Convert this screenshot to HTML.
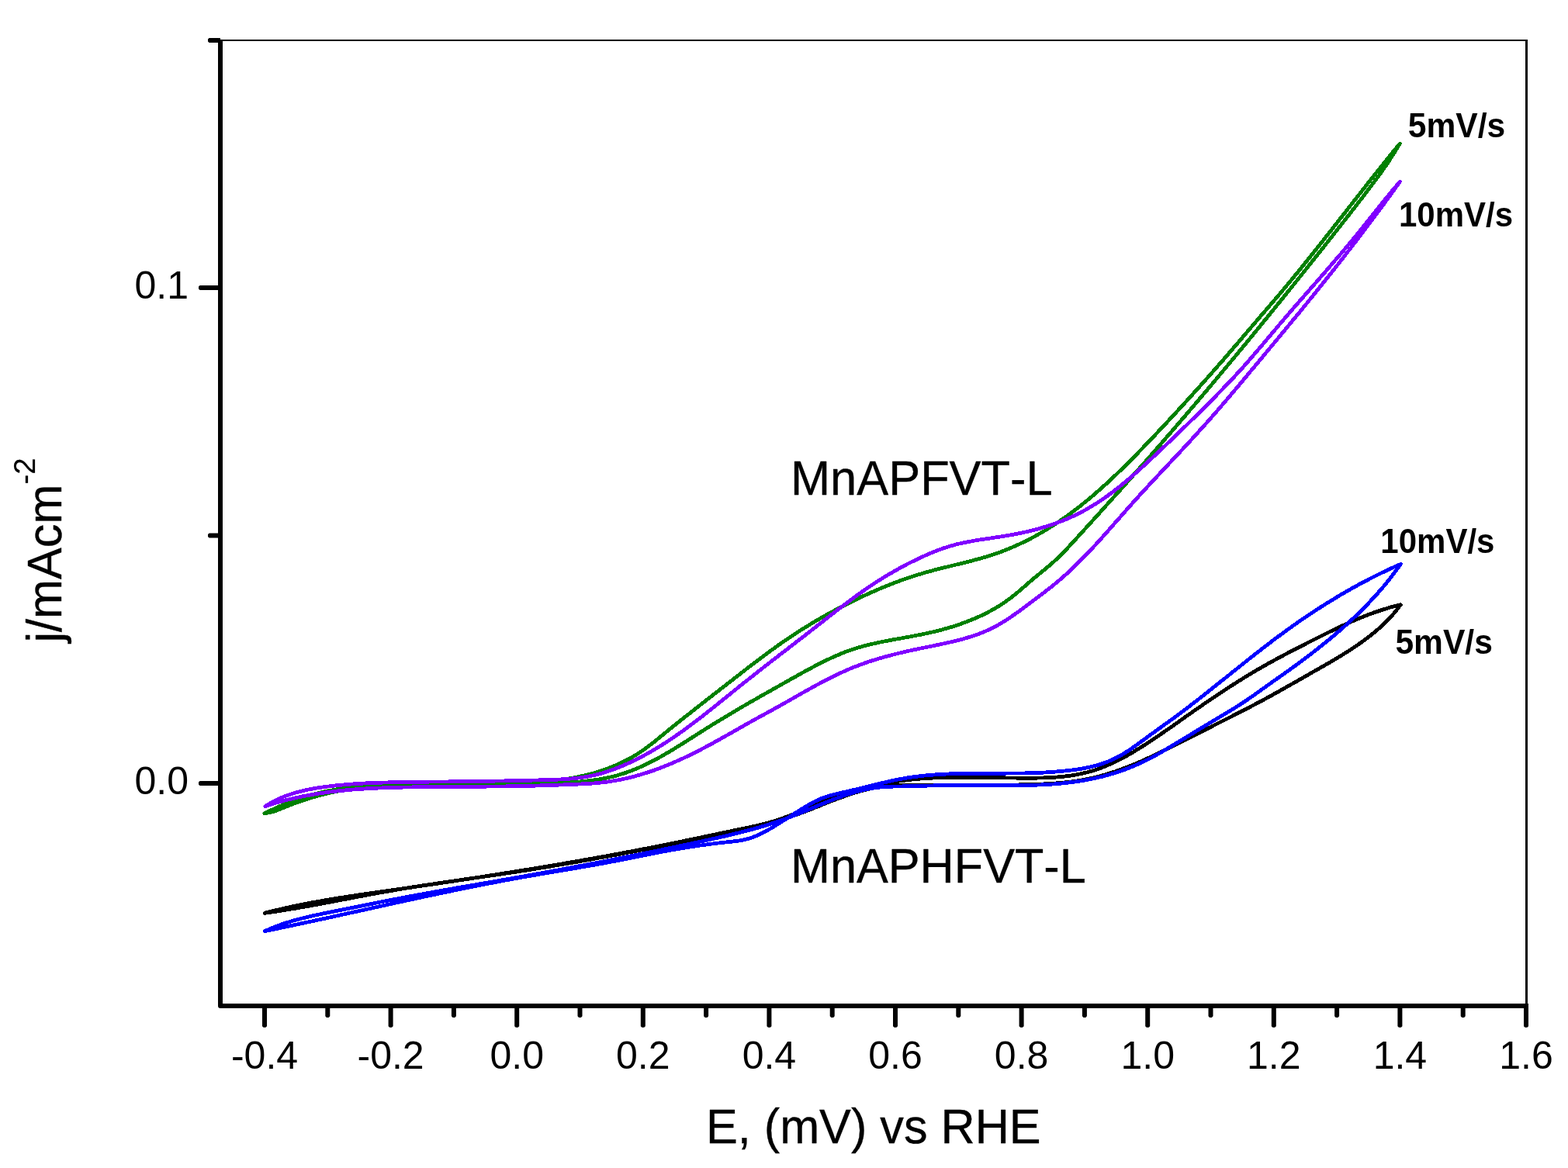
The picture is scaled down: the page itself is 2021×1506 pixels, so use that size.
<!DOCTYPE html>
<html lang="en"><head><meta charset="utf-8"><title>Cyclic voltammograms</title>
<style>
html,body{margin:0;padding:0;background:#fff;}
body{width:2021px;height:1506px;overflow:hidden;}
svg{display:block;}
text{font-family:"Liberation Sans",sans-serif;fill:#000;font-kerning:none;}
.tk{font-size:50px;}
.lab{font-size:61.2px;stroke:#000;stroke-width:0.35px;stroke-linejoin:round;}
.b{font-size:44px;font-weight:bold;}
.sup{font-size:38.3px;stroke-width:0.2px;}
.curve{fill:none;stroke-width:4.8;stroke-linejoin:round;stroke-linecap:round;}
</style></head><body>
<svg width="2021" height="1506" viewBox="0 0 2021 1506">
<rect width="2021" height="1506" fill="#fff"/>
<g class="curve" shape-rendering="crispEdges" transform="translate(0 0.4)">
<path stroke="#000" d="M341.2 1176.9C343.1 1176.4 349.0 1174.9 352.9 1173.9C356.8 1173.0 360.7 1172.1 364.6 1171.2C368.5 1170.3 372.4 1169.4 376.3 1168.6C380.3 1167.7 384.2 1166.9 388.1 1166.1C392.0 1165.3 396.0 1164.6 399.9 1163.8C403.9 1163.1 407.8 1162.4 411.8 1161.7C415.7 1161.0 419.7 1160.3 423.6 1159.6C427.6 1159.0 431.5 1158.3 435.5 1157.7C439.5 1157.0 443.4 1156.4 447.4 1155.8C451.4 1155.2 455.3 1154.6 459.3 1154.0C463.3 1153.4 467.2 1152.8 471.2 1152.2C475.2 1151.7 479.2 1151.1 483.1 1150.5C487.1 1149.9 491.1 1149.4 495.1 1148.8C499.0 1148.2 503.0 1147.7 507.0 1147.1C510.9 1146.5 514.9 1146.0 518.9 1145.4C522.9 1144.8 526.8 1144.2 530.8 1143.6C534.8 1143.1 538.8 1142.5 542.7 1141.9C546.7 1141.3 550.7 1140.7 554.6 1140.2C558.6 1139.6 562.6 1139.0 566.5 1138.4C570.5 1137.8 574.5 1137.2 578.5 1136.6C582.4 1136.0 586.4 1135.4 590.4 1134.8C594.3 1134.2 598.3 1133.6 602.3 1133.0C606.2 1132.4 610.2 1131.8 614.2 1131.2C618.1 1130.6 622.1 1130.0 626.0 1129.4C630.0 1128.8 634.0 1128.1 637.9 1127.5C641.9 1126.9 645.9 1126.3 649.8 1125.6C653.8 1125.0 657.8 1124.4 661.7 1123.7C665.7 1123.1 669.6 1122.5 673.6 1121.8C677.6 1121.2 681.5 1120.6 685.5 1119.9C689.4 1119.3 693.4 1118.6 697.4 1117.9C701.3 1117.3 705.3 1116.6 709.2 1116.0C713.2 1115.3 717.2 1114.6 721.1 1114.0C725.1 1113.3 729.0 1112.6 733.0 1111.9C736.9 1111.3 740.9 1110.6 744.8 1109.9C748.8 1109.2 752.7 1108.5 756.7 1107.8C760.6 1107.1 764.6 1106.4 768.5 1105.7C772.5 1105.0 776.4 1104.3 780.4 1103.6C784.3 1102.8 788.3 1102.1 792.2 1101.4C796.2 1100.7 800.1 1099.9 804.1 1099.2C808.0 1098.4 812.0 1097.7 815.9 1097.0C819.8 1096.2 823.8 1095.5 827.7 1094.7C831.7 1093.9 835.6 1093.2 839.5 1092.4C843.5 1091.6 847.4 1090.8 851.3 1090.1C855.3 1089.3 859.2 1088.5 863.1 1087.7C867.1 1086.9 871.0 1086.1 874.9 1085.3C878.9 1084.5 882.8 1083.7 886.7 1082.9C890.7 1082.0 894.6 1081.2 898.5 1080.4C902.4 1079.6 906.4 1078.8 910.3 1077.9C914.2 1077.1 918.1 1076.3 922.1 1075.5C926.0 1074.6 929.9 1073.8 933.9 1073.0C937.8 1072.2 941.7 1071.3 945.7 1070.5C949.6 1069.7 953.5 1068.9 957.5 1068.0C961.4 1067.2 965.3 1066.4 969.3 1065.6C973.2 1064.7 977.1 1063.9 981.0 1062.9C984.9 1062.0 988.8 1060.9 992.6 1059.8C996.5 1058.7 1000.3 1057.5 1004.1 1056.2C1007.9 1054.9 1011.6 1053.6 1015.4 1052.2C1019.1 1050.8 1022.8 1049.3 1026.5 1047.8C1030.3 1046.3 1033.9 1044.7 1037.6 1043.1C1041.3 1041.5 1044.9 1039.8 1048.6 1038.2C1052.3 1036.6 1056.0 1035.0 1059.7 1033.5C1063.4 1032.0 1067.1 1030.5 1070.9 1029.0C1074.6 1027.6 1078.4 1026.3 1082.2 1025.0C1086.0 1023.7 1089.8 1022.4 1093.7 1021.2C1097.5 1020.1 1101.4 1018.9 1105.2 1017.9C1109.1 1016.8 1113.0 1015.8 1116.9 1014.8C1120.8 1013.9 1124.8 1013.0 1128.7 1012.1C1132.6 1011.3 1136.6 1010.5 1140.5 1009.8C1144.5 1009.0 1148.4 1008.3 1152.4 1007.7C1156.4 1007.1 1160.3 1006.5 1164.3 1006.0C1168.3 1005.5 1172.3 1005.0 1176.3 1004.6C1180.2 1004.2 1184.2 1003.9 1188.2 1003.5C1192.2 1003.2 1196.2 1003.0 1200.2 1002.8C1204.1 1002.5 1208.1 1002.4 1212.1 1002.2C1216.1 1002.1 1220.1 1002.0 1224.1 1001.9C1228.1 1001.8 1232.1 1001.8 1236.1 1001.8C1240.1 1001.7 1244.1 1001.8 1248.1 1001.8C1252.1 1001.8 1256.1 1001.8 1260.1 1001.9C1264.1 1001.9 1268.1 1002.0 1272.1 1002.1C1276.1 1002.1 1280.1 1002.2 1284.2 1002.3C1288.2 1002.4 1292.2 1002.4 1296.2 1002.5C1300.3 1002.6 1304.3 1002.6 1308.3 1002.7C1312.4 1002.7 1316.4 1002.8 1320.5 1002.8C1324.5 1002.8 1328.6 1002.8 1332.7 1002.8C1336.7 1002.7 1340.8 1002.7 1344.8 1002.5C1348.9 1002.4 1352.9 1002.2 1357.0 1002.0C1361.0 1001.7 1365.0 1001.4 1369.0 1001.0C1373.0 1000.6 1377.0 1000.1 1380.9 999.5C1384.9 998.9 1388.8 998.2 1392.7 997.4C1396.6 996.6 1400.5 995.7 1404.3 994.6C1408.1 993.5 1411.9 992.3 1415.6 991.0C1419.4 989.7 1423.1 988.2 1426.7 986.7C1430.4 985.1 1434.0 983.4 1437.6 981.7C1441.2 980.0 1444.8 978.1 1448.4 976.2C1451.9 974.3 1455.4 972.3 1458.9 970.3C1462.4 968.2 1465.8 966.1 1469.2 964.0C1472.7 961.8 1476.1 959.7 1479.4 957.5C1482.8 955.3 1486.2 953.0 1489.5 950.8C1492.8 948.6 1496.1 946.3 1499.4 944.0C1502.7 941.7 1506.0 939.5 1509.3 937.2C1512.6 934.9 1515.8 932.6 1519.1 930.3C1522.4 928.0 1525.6 925.6 1528.9 923.3C1532.2 921.0 1535.5 918.7 1538.7 916.4C1542.0 914.1 1545.3 911.8 1548.6 909.6C1551.9 907.3 1555.2 905.0 1558.6 902.7C1561.9 900.5 1565.2 898.2 1568.6 896.0C1571.9 893.8 1575.3 891.5 1578.6 889.3C1582.0 887.1 1585.4 885.0 1588.7 882.8C1592.1 880.6 1595.5 878.5 1598.9 876.3C1602.3 874.2 1605.8 872.1 1609.2 870.0C1612.6 868.0 1616.1 865.9 1619.5 863.9C1623.0 861.8 1626.5 859.8 1630.0 857.8C1633.4 855.9 1636.9 853.9 1640.5 852.0C1644.0 850.1 1647.5 848.2 1651.0 846.3C1654.5 844.4 1658.1 842.5 1661.6 840.7C1665.2 838.8 1668.7 837.0 1672.3 835.1C1675.9 833.3 1679.4 831.5 1683.0 829.7C1686.6 827.8 1690.2 826.0 1693.8 824.2C1697.3 822.4 1700.9 820.6 1704.5 818.8C1708.1 817.0 1711.7 815.2 1715.4 813.5C1719.0 811.7 1722.6 809.9 1726.2 808.2C1729.9 806.5 1733.5 804.8 1737.2 803.2C1740.9 801.5 1744.5 799.9 1748.2 798.4C1751.9 796.8 1755.6 795.3 1759.4 793.8C1763.1 792.4 1766.8 790.9 1770.6 789.6C1774.4 788.3 1778.2 787.0 1782.0 785.8C1785.8 784.5 1789.7 783.4 1793.5 782.3C1797.4 781.3 1803.3 779.9 1805.2 779.4 M1805.2 779.4C1804.0 781.0 1800.4 785.9 1797.8 789.0C1795.3 792.1 1792.6 795.1 1789.8 798.0C1787.0 800.9 1784.1 803.7 1781.2 806.4C1778.3 809.1 1775.3 811.7 1772.2 814.3C1769.1 816.9 1766.0 819.3 1762.8 821.8C1759.6 824.2 1756.4 826.6 1753.1 828.9C1749.9 831.2 1746.5 833.4 1743.2 835.7C1739.8 837.9 1736.4 840.1 1733.0 842.2C1729.6 844.3 1726.1 846.4 1722.7 848.5C1719.2 850.6 1715.7 852.6 1712.2 854.7C1708.7 856.7 1705.2 858.7 1701.7 860.7C1698.1 862.7 1694.6 864.7 1691.1 866.7C1687.6 868.7 1684.1 870.8 1680.6 872.8C1677.0 874.8 1673.5 876.8 1670.0 878.8C1666.5 880.8 1663.0 882.8 1659.5 884.7C1656.0 886.7 1652.5 888.7 1649.0 890.7C1645.5 892.6 1642.0 894.6 1638.5 896.5C1635.0 898.5 1631.4 900.4 1627.9 902.3C1624.4 904.2 1620.8 906.1 1617.3 907.9C1613.8 909.8 1610.2 911.6 1606.7 913.5C1603.1 915.3 1599.5 917.2 1596.0 919.0C1592.4 920.8 1588.8 922.6 1585.3 924.4C1581.7 926.2 1578.1 928.0 1574.5 929.8C1570.9 931.6 1567.4 933.4 1563.8 935.3C1560.2 937.1 1556.6 938.9 1553.0 940.7C1549.4 942.5 1545.8 944.3 1542.2 946.1C1538.6 948.0 1535.0 949.8 1531.4 951.6C1527.8 953.5 1524.2 955.3 1520.6 957.2C1517.0 959.0 1513.4 960.8 1509.7 962.7C1506.1 964.5 1502.5 966.3 1498.9 968.1C1495.2 969.9 1491.6 971.6 1487.9 973.4C1484.3 975.1 1480.6 976.8 1476.9 978.5C1473.3 980.1 1469.6 981.8 1465.9 983.3C1462.2 984.9 1458.4 986.5 1454.7 987.9C1451.0 989.4 1447.2 990.8 1443.5 992.2C1439.7 993.6 1435.9 994.9 1432.1 996.1C1428.3 997.3 1424.5 998.5 1420.6 999.5C1416.8 1000.6 1412.9 1001.6 1409.0 1002.5C1405.1 1003.4 1401.2 1004.2 1397.3 1005.0C1393.3 1005.7 1389.4 1006.3 1385.4 1006.9C1381.4 1007.5 1377.4 1008.0 1373.4 1008.4C1369.4 1008.8 1365.4 1009.2 1361.4 1009.5C1357.3 1009.8 1353.3 1010.1 1349.2 1010.3C1345.2 1010.5 1341.2 1010.7 1337.1 1010.9C1333.1 1011.0 1329.0 1011.2 1325.0 1011.3C1320.9 1011.4 1316.9 1011.4 1312.9 1011.5C1308.8 1011.6 1304.8 1011.6 1300.8 1011.7C1296.7 1011.7 1292.7 1011.8 1288.7 1011.8C1284.7 1011.8 1280.7 1011.8 1276.7 1011.8C1272.6 1011.8 1268.6 1011.8 1264.6 1011.8C1260.6 1011.8 1256.6 1011.8 1252.6 1011.8C1248.6 1011.8 1244.6 1011.8 1240.6 1011.8C1236.6 1011.7 1232.5 1011.7 1228.5 1011.7C1224.5 1011.7 1220.5 1011.7 1216.5 1011.7C1212.4 1011.6 1208.4 1011.6 1204.4 1011.6C1200.4 1011.6 1196.3 1011.6 1192.3 1011.7C1188.3 1011.7 1184.2 1011.7 1180.2 1011.7C1176.1 1011.8 1172.0 1011.8 1168.0 1011.9C1163.9 1012.0 1159.9 1012.1 1155.8 1012.3C1151.8 1012.5 1147.8 1012.8 1143.8 1013.2C1139.8 1013.5 1135.8 1014.0 1131.8 1014.7C1127.9 1015.3 1124.0 1016.1 1120.1 1016.9C1116.2 1017.8 1112.3 1018.8 1108.5 1019.9C1104.6 1020.9 1100.8 1022.1 1097.0 1023.3C1093.2 1024.6 1089.4 1025.9 1085.6 1027.3C1081.8 1028.6 1078.0 1030.0 1074.3 1031.5C1070.5 1032.9 1066.8 1034.4 1063.0 1035.9C1059.3 1037.4 1055.5 1039.0 1051.8 1040.4C1048.0 1041.9 1044.3 1043.5 1040.5 1044.9C1036.8 1046.3 1033.0 1047.7 1029.2 1049.1C1025.4 1050.4 1021.6 1051.7 1017.8 1052.9C1013.9 1054.1 1010.1 1055.3 1006.2 1056.4C1002.4 1057.6 998.5 1058.6 994.6 1059.7C990.8 1060.8 986.9 1061.8 983.0 1062.8C979.1 1063.8 975.2 1064.8 971.3 1065.8C967.4 1066.7 963.5 1067.7 959.6 1068.6C955.7 1069.5 951.7 1070.4 947.8 1071.3C943.9 1072.2 940.0 1073.1 936.0 1073.9C932.1 1074.8 928.2 1075.6 924.2 1076.5C920.3 1077.3 916.3 1078.1 912.4 1078.9C908.5 1079.8 904.5 1080.6 900.6 1081.3C896.6 1082.1 892.7 1082.9 888.7 1083.7C884.8 1084.5 880.8 1085.2 876.8 1086.0C872.9 1086.8 868.9 1087.5 865.0 1088.3C861.0 1089.1 857.1 1089.8 853.1 1090.6C849.1 1091.3 845.2 1092.1 841.2 1092.9C837.3 1093.6 833.3 1094.4 829.4 1095.1C825.4 1095.9 821.5 1096.6 817.5 1097.3C813.5 1098.1 809.6 1098.8 805.6 1099.6C801.7 1100.3 797.7 1101.0 793.8 1101.8C789.8 1102.5 785.8 1103.2 781.9 1104.0C777.9 1104.7 774.0 1105.4 770.0 1106.1C766.1 1106.8 762.1 1107.6 758.1 1108.3C754.2 1109.0 750.2 1109.7 746.2 1110.4C742.3 1111.1 738.3 1111.8 734.4 1112.4C730.4 1113.1 726.4 1113.8 722.5 1114.5C718.5 1115.2 714.5 1115.8 710.6 1116.5C706.6 1117.2 702.6 1117.8 698.7 1118.5C694.7 1119.1 690.7 1119.7 686.7 1120.4C682.8 1121.0 678.8 1121.6 674.8 1122.3C670.8 1122.9 666.9 1123.5 662.9 1124.1C658.9 1124.7 654.9 1125.3 650.9 1125.9C647.0 1126.5 643.0 1127.1 639.0 1127.7C635.0 1128.3 631.0 1128.8 627.0 1129.4C623.1 1130.0 619.1 1130.6 615.1 1131.1C611.1 1131.7 607.1 1132.3 603.1 1132.9C599.1 1133.4 595.2 1134.0 591.2 1134.6C587.2 1135.2 583.2 1135.7 579.2 1136.3C575.2 1136.9 571.2 1137.5 567.3 1138.1C563.3 1138.7 559.3 1139.3 555.3 1139.9C551.3 1140.5 547.4 1141.1 543.4 1141.7C539.4 1142.3 535.4 1142.9 531.5 1143.6C527.5 1144.2 523.5 1144.8 519.5 1145.5C515.6 1146.1 511.6 1146.8 507.6 1147.5C503.7 1148.2 499.7 1148.8 495.7 1149.5C491.8 1150.2 487.8 1151.0 483.8 1151.7C479.9 1152.4 475.9 1153.1 472.0 1153.9C468.0 1154.6 464.1 1155.4 460.1 1156.1C456.2 1156.9 452.2 1157.6 448.2 1158.4C444.3 1159.1 440.3 1159.9 436.4 1160.6C432.4 1161.4 428.5 1162.1 424.5 1162.9C420.6 1163.6 416.6 1164.4 412.7 1165.1C408.7 1165.8 404.8 1166.6 400.8 1167.3C396.8 1168.0 392.9 1168.7 388.9 1169.4C384.9 1170.1 381.0 1170.8 377.0 1171.4C373.0 1172.1 369.1 1172.7 365.1 1173.4C361.1 1174.0 357.1 1174.6 353.2 1175.2C349.2 1175.8 343.2 1176.6 341.2 1176.9"/>
<path stroke="#0000ff" d="M341.2 1200.2C343.1 1199.4 348.6 1196.9 352.3 1195.4C356.1 1193.9 359.9 1192.5 363.7 1191.2C367.5 1189.9 371.3 1188.7 375.2 1187.5C379.0 1186.4 382.9 1185.3 386.8 1184.3C390.7 1183.3 394.6 1182.4 398.5 1181.5C402.4 1180.5 406.4 1179.7 410.3 1178.8C414.2 1178.0 418.2 1177.2 422.1 1176.4C426.1 1175.6 430.0 1174.8 434.0 1174.0C437.9 1173.2 441.9 1172.5 445.8 1171.7C449.8 1170.9 453.7 1170.1 457.7 1169.3C461.6 1168.5 465.6 1167.7 469.5 1166.9C473.4 1166.1 477.4 1165.3 481.3 1164.5C485.3 1163.7 489.2 1162.9 493.2 1162.1C497.1 1161.4 501.1 1160.6 505.0 1159.8C509.0 1159.1 512.9 1158.3 516.9 1157.6C520.8 1156.8 524.8 1156.1 528.7 1155.3C532.7 1154.6 536.6 1153.9 540.6 1153.1C544.6 1152.4 548.5 1151.7 552.5 1151.0C556.4 1150.3 560.4 1149.6 564.4 1148.8C568.3 1148.1 572.3 1147.4 576.2 1146.7C580.2 1146.0 584.2 1145.3 588.1 1144.6C592.1 1143.9 596.1 1143.3 600.0 1142.6C604.0 1141.9 608.0 1141.2 611.9 1140.5C615.9 1139.8 619.9 1139.1 623.8 1138.4C627.8 1137.7 631.8 1137.0 635.7 1136.4C639.7 1135.7 643.7 1135.0 647.6 1134.3C651.6 1133.6 655.6 1132.9 659.5 1132.2C663.5 1131.5 667.5 1130.8 671.4 1130.1C675.4 1129.4 679.4 1128.7 683.3 1128.0C687.3 1127.3 691.2 1126.5 695.2 1125.8C699.2 1125.1 703.1 1124.4 707.1 1123.7C711.0 1123.0 715.0 1122.2 718.9 1121.5C722.9 1120.8 726.9 1120.0 730.8 1119.3C734.8 1118.6 738.7 1117.8 742.7 1117.1C746.6 1116.3 750.6 1115.6 754.5 1114.8C758.5 1114.1 762.4 1113.3 766.4 1112.6C770.3 1111.8 774.3 1111.0 778.2 1110.3C782.2 1109.5 786.1 1108.7 790.1 1108.0C794.0 1107.2 798.0 1106.4 801.9 1105.6C805.9 1104.8 809.8 1104.1 813.8 1103.3C817.7 1102.5 821.7 1101.7 825.6 1100.9C829.6 1100.1 833.5 1099.3 837.4 1098.5C841.4 1097.7 845.3 1096.9 849.3 1096.1C853.2 1095.2 857.2 1094.4 861.1 1093.6C865.0 1092.8 869.0 1091.9 872.9 1091.1C876.9 1090.3 880.8 1089.4 884.7 1088.6C888.7 1087.8 892.6 1086.9 896.5 1086.1C900.5 1085.2 904.4 1084.4 908.4 1083.5C912.3 1082.6 916.2 1081.8 920.2 1080.9C924.1 1080.0 928.0 1079.2 931.9 1078.3C935.9 1077.4 939.8 1076.5 943.7 1075.5C947.6 1074.6 951.5 1073.6 955.4 1072.6C959.3 1071.7 963.2 1070.6 967.1 1069.6C971.0 1068.5 974.9 1067.5 978.7 1066.4C982.6 1065.2 986.4 1064.1 990.3 1062.9C994.1 1061.7 997.9 1060.4 1001.7 1059.1C1005.5 1057.8 1009.3 1056.5 1013.1 1055.1C1016.9 1053.7 1020.6 1052.2 1024.4 1050.7C1028.1 1049.2 1031.8 1047.7 1035.6 1046.2C1039.3 1044.6 1043.0 1043.1 1046.7 1041.5C1050.5 1040.0 1054.2 1038.4 1057.9 1036.9C1061.7 1035.3 1065.4 1033.8 1069.1 1032.4C1072.9 1030.9 1076.6 1029.4 1080.4 1028.1C1084.2 1026.7 1088.0 1025.3 1091.8 1024.1C1095.6 1022.9 1099.4 1021.7 1103.3 1020.6C1107.1 1019.5 1111.0 1018.5 1114.9 1017.7C1118.8 1016.8 1122.8 1016.1 1126.7 1015.5C1130.7 1015.0 1134.7 1014.5 1138.7 1014.2C1142.7 1013.9 1146.8 1013.9 1150.8 1013.7C1154.8 1013.6 1158.9 1013.6 1162.9 1013.5C1167.0 1013.4 1171.0 1013.3 1175.0 1013.2C1179.0 1013.1 1183.1 1013.0 1187.1 1012.9C1191.1 1012.8 1195.1 1012.7 1199.1 1012.6C1203.1 1012.5 1207.1 1012.4 1211.1 1012.3C1215.1 1012.2 1219.1 1012.1 1223.2 1012.1C1227.2 1012.0 1231.2 1012.0 1235.2 1012.0C1239.2 1011.9 1243.3 1012.0 1247.3 1012.0C1251.3 1012.0 1255.4 1012.0 1259.4 1012.0C1263.4 1012.1 1267.5 1012.1 1271.5 1012.2C1275.6 1012.2 1279.6 1012.2 1283.7 1012.3C1287.7 1012.3 1291.7 1012.3 1295.8 1012.3C1299.8 1012.3 1303.9 1012.3 1307.9 1012.3C1311.9 1012.3 1316.0 1012.3 1320.0 1012.2C1324.0 1012.1 1328.1 1012.0 1332.1 1011.9C1336.1 1011.8 1340.1 1011.6 1344.2 1011.4C1348.2 1011.2 1352.2 1011.0 1356.2 1010.7C1360.2 1010.4 1364.2 1010.1 1368.2 1009.7C1372.2 1009.3 1376.1 1008.8 1380.1 1008.3C1384.1 1007.8 1388.1 1007.3 1392.0 1006.7C1396.0 1006.0 1399.9 1005.4 1403.8 1004.6C1407.8 1003.8 1411.7 1003.0 1415.6 1002.1C1419.5 1001.2 1423.4 1000.2 1427.3 999.1C1431.2 998.0 1435.0 996.9 1438.9 995.6C1442.7 994.4 1446.6 993.0 1450.4 991.6C1454.2 990.2 1457.9 988.7 1461.7 987.1C1465.4 985.5 1469.1 983.9 1472.7 982.2C1476.4 980.4 1480.0 978.6 1483.6 976.8C1487.1 974.9 1490.6 973.0 1494.1 971.0C1497.6 969.0 1501.0 967.0 1504.5 964.9C1507.9 962.9 1511.4 960.8 1514.8 958.7C1518.2 956.7 1521.7 954.6 1525.1 952.5C1528.5 950.4 1532.0 948.3 1535.4 946.2C1538.9 944.1 1542.3 942.0 1545.7 939.9C1549.2 937.8 1552.6 935.7 1556.1 933.6C1559.5 931.5 1563.0 929.5 1566.4 927.4C1569.9 925.3 1573.3 923.3 1576.8 921.2C1580.3 919.2 1583.7 917.1 1587.2 915.0C1590.6 912.9 1594.0 910.8 1597.4 908.7C1600.8 906.5 1604.1 904.3 1607.4 902.0C1610.7 899.7 1614.0 897.4 1617.3 895.1C1620.6 892.8 1623.8 890.4 1627.1 888.1C1630.4 885.7 1633.7 883.4 1637.0 881.1C1640.2 878.7 1643.5 876.4 1646.8 874.1C1650.1 871.8 1653.4 869.5 1656.7 867.1C1660.0 864.8 1663.2 862.4 1666.5 860.1C1669.8 857.7 1673.0 855.3 1676.2 852.9C1679.5 850.5 1682.7 848.1 1685.9 845.7C1689.1 843.2 1692.3 840.8 1695.5 838.3C1698.6 835.9 1701.8 833.4 1704.9 830.8C1708.1 828.3 1711.2 825.8 1714.3 823.2C1717.4 820.7 1720.4 818.1 1723.5 815.4C1726.5 812.8 1729.6 810.2 1732.6 807.5C1735.6 804.8 1738.6 802.1 1741.5 799.4C1744.5 796.6 1747.4 793.9 1750.3 791.1C1753.2 788.2 1756.0 785.4 1758.9 782.5C1761.7 779.7 1764.5 776.8 1767.2 773.8C1770.0 770.9 1772.7 767.9 1775.4 764.9C1778.0 761.9 1780.7 758.8 1783.3 755.8C1785.8 752.7 1788.4 749.6 1790.9 746.4C1793.4 743.2 1795.8 740.1 1798.2 736.8C1800.6 733.6 1804.0 728.6 1805.2 727.0 M1805.2 727.0C1803.4 727.8 1797.9 730.2 1794.2 731.9C1790.6 733.6 1787.0 735.3 1783.4 737.0C1779.8 738.7 1776.2 740.5 1772.6 742.3C1769.0 744.1 1765.5 745.9 1761.9 747.8C1758.4 749.6 1754.8 751.5 1751.3 753.4C1747.8 755.3 1744.3 757.3 1740.8 759.2C1737.3 761.2 1733.8 763.2 1730.4 765.2C1726.9 767.2 1723.5 769.3 1720.1 771.4C1716.6 773.4 1713.2 775.5 1709.8 777.7C1706.4 779.8 1703.0 781.9 1699.7 784.1C1696.3 786.3 1692.9 788.5 1689.6 790.7C1686.3 792.9 1682.9 795.1 1679.6 797.4C1676.3 799.6 1673.0 801.9 1669.8 804.2C1666.5 806.5 1663.2 808.9 1660.0 811.2C1656.7 813.6 1653.5 815.9 1650.3 818.3C1647.0 820.7 1643.8 823.1 1640.6 825.5C1637.5 827.9 1634.3 830.3 1631.1 832.8C1627.9 835.2 1624.8 837.7 1621.6 840.1C1618.5 842.6 1615.3 845.1 1612.2 847.5C1609.0 850.0 1605.9 852.5 1602.8 855.0C1599.6 857.5 1596.5 860.0 1593.4 862.5C1590.2 865.0 1587.1 867.5 1584.0 870.0C1580.9 872.5 1577.8 875.0 1574.6 877.5C1571.5 880.0 1568.4 882.5 1565.2 885.0C1562.1 887.5 1559.0 890.0 1555.8 892.5C1552.7 895.0 1549.6 897.4 1546.4 899.9C1543.2 902.4 1540.1 904.8 1536.9 907.3C1533.7 909.7 1530.6 912.1 1527.4 914.6C1524.2 917.0 1521.0 919.4 1517.8 921.8C1514.6 924.1 1511.3 926.5 1508.1 928.9C1504.8 931.2 1501.6 933.5 1498.3 935.9C1495.1 938.2 1491.8 940.5 1488.6 942.9C1485.3 945.2 1482.1 947.6 1478.8 949.9C1475.6 952.3 1472.4 954.7 1469.2 957.1C1466.0 959.4 1462.7 961.8 1459.4 964.1C1456.1 966.3 1452.8 968.6 1449.3 970.7C1445.9 972.8 1442.4 974.8 1438.8 976.6C1435.3 978.4 1431.6 980.1 1427.9 981.6C1424.2 983.1 1420.4 984.4 1416.6 985.6C1412.8 986.7 1408.9 987.7 1405.0 988.6C1401.1 989.5 1397.1 990.2 1393.2 990.9C1389.2 991.5 1385.2 992.1 1381.2 992.6C1377.3 993.1 1373.3 993.5 1369.3 993.9C1365.3 994.3 1361.3 994.6 1357.3 994.9C1353.4 995.2 1349.4 995.5 1345.4 995.7C1341.4 995.9 1337.4 996.0 1333.4 996.2C1329.4 996.3 1325.4 996.4 1321.4 996.5C1317.4 996.6 1313.4 996.6 1309.4 996.7C1305.4 996.7 1301.4 996.7 1297.4 996.7C1293.4 996.7 1289.4 996.7 1285.4 996.7C1281.4 996.7 1277.4 996.7 1273.4 996.7C1269.4 996.7 1265.3 996.7 1261.3 996.8C1257.3 996.8 1253.3 996.8 1249.3 996.9C1245.2 996.9 1241.2 997.0 1237.2 997.1C1233.2 997.2 1229.2 997.3 1225.1 997.4C1221.1 997.6 1217.1 997.8 1213.1 998.0C1209.1 998.3 1205.1 998.5 1201.1 998.8C1197.1 999.2 1193.2 999.5 1189.2 999.9C1185.2 1000.4 1181.3 1000.8 1177.3 1001.4C1173.3 1001.9 1169.4 1002.5 1165.5 1003.2C1161.5 1003.9 1157.6 1004.6 1153.7 1005.4C1149.8 1006.2 1145.9 1007.1 1142.0 1008.0C1138.1 1008.9 1134.3 1009.9 1130.4 1010.8C1126.5 1011.8 1122.6 1012.8 1118.7 1013.7C1114.8 1014.7 1110.9 1015.6 1107.0 1016.6C1103.1 1017.5 1099.2 1018.4 1095.3 1019.3C1091.4 1020.2 1087.5 1021.0 1083.6 1021.9C1079.7 1022.9 1075.8 1023.7 1071.9 1024.8C1068.1 1025.9 1064.2 1027.0 1060.5 1028.4C1056.8 1029.8 1053.2 1031.5 1049.7 1033.3C1046.1 1035.1 1042.7 1037.1 1039.2 1039.2C1035.8 1041.2 1032.4 1043.3 1029.0 1045.5C1025.6 1047.6 1022.2 1049.7 1018.8 1051.9C1015.4 1054.0 1012.1 1056.2 1008.7 1058.4C1005.2 1060.5 1001.8 1062.7 998.4 1064.8C994.9 1066.9 991.5 1069.0 987.9 1070.9C984.4 1072.8 980.8 1074.7 977.2 1076.3C973.6 1077.9 969.9 1079.4 966.1 1080.5C962.3 1081.7 958.4 1082.6 954.5 1083.3C950.6 1084.0 946.6 1084.3 942.6 1084.8C938.6 1085.2 934.6 1085.6 930.6 1086.1C926.6 1086.5 922.7 1087.0 918.7 1087.5C914.7 1088.0 910.7 1088.5 906.8 1089.1C902.8 1089.6 898.8 1090.2 894.9 1090.8C890.9 1091.4 887.0 1092.0 883.0 1092.6C879.1 1093.3 875.1 1093.9 871.2 1094.6C867.2 1095.3 863.3 1096.0 859.4 1096.7C855.4 1097.5 851.5 1098.2 847.6 1099.0C843.6 1099.7 839.7 1100.5 835.8 1101.3C831.8 1102.0 827.9 1102.8 824.0 1103.6C820.1 1104.4 816.1 1105.2 812.2 1106.0C808.3 1106.8 804.4 1107.5 800.4 1108.3C796.5 1109.1 792.6 1109.9 788.6 1110.6C784.7 1111.4 780.8 1112.1 776.8 1112.8C772.9 1113.5 768.9 1114.3 765.0 1115.0C761.1 1115.7 757.1 1116.3 753.2 1117.0C749.2 1117.7 745.3 1118.4 741.3 1119.1C737.4 1119.7 733.4 1120.4 729.5 1121.1C725.6 1121.7 721.6 1122.4 717.7 1123.1C713.7 1123.7 709.8 1124.4 705.8 1125.1C701.9 1125.7 697.9 1126.4 694.0 1127.1C690.0 1127.8 686.1 1128.4 682.1 1129.1C678.2 1129.8 674.3 1130.5 670.3 1131.2C666.4 1131.9 662.4 1132.6 658.5 1133.3C654.6 1134.0 650.6 1134.8 646.7 1135.5C642.8 1136.2 638.8 1137.0 634.9 1137.8C631.0 1138.5 627.0 1139.3 623.1 1140.0C619.2 1140.8 615.3 1141.6 611.3 1142.4C607.4 1143.1 603.5 1143.9 599.6 1144.7C595.6 1145.5 591.7 1146.3 587.8 1147.1C583.9 1147.9 580.0 1148.8 576.0 1149.6C572.1 1150.4 568.2 1151.2 564.3 1152.1C560.4 1152.9 556.5 1153.7 552.5 1154.5C548.6 1155.4 544.7 1156.2 540.8 1157.1C536.9 1157.9 533.0 1158.8 529.1 1159.6C525.1 1160.5 521.2 1161.3 517.3 1162.2C513.4 1163.0 509.5 1163.9 505.6 1164.7C501.7 1165.6 497.8 1166.5 493.9 1167.3C489.9 1168.2 486.0 1169.0 482.1 1169.9C478.2 1170.8 474.3 1171.6 470.4 1172.5C466.5 1173.4 462.6 1174.2 458.7 1175.1C454.7 1175.9 450.8 1176.8 446.9 1177.7C443.0 1178.5 439.1 1179.4 435.2 1180.2C431.3 1181.1 427.4 1182.0 423.5 1182.8C419.5 1183.7 415.6 1184.5 411.7 1185.4C407.8 1186.2 403.9 1187.1 400.0 1187.9C396.1 1188.7 392.2 1189.6 388.2 1190.4C384.3 1191.3 380.4 1192.1 376.5 1192.9C372.6 1193.7 368.6 1194.6 364.7 1195.4C360.8 1196.2 356.9 1197.0 353.0 1197.8C349.0 1198.6 343.2 1199.8 341.2 1200.2"/>
<path stroke="#008000" d="M341.0 1048.3C342.8 1047.4 348.2 1044.9 351.8 1043.2C355.4 1041.5 359.1 1039.9 362.8 1038.3C366.5 1036.7 370.2 1035.2 373.9 1033.7C377.7 1032.3 381.5 1030.9 385.3 1029.5C389.1 1028.2 392.9 1027.0 396.7 1025.8C400.6 1024.7 404.4 1023.6 408.3 1022.7C412.2 1021.7 416.1 1020.8 420.0 1020.0C423.9 1019.2 427.8 1018.5 431.8 1017.8C435.7 1017.1 439.7 1016.5 443.7 1016.0C447.6 1015.4 451.6 1014.9 455.6 1014.5C459.6 1014.1 463.6 1013.7 467.6 1013.3C471.6 1013.0 475.6 1012.7 479.6 1012.4C483.6 1012.2 487.6 1011.9 491.6 1011.7C495.6 1011.5 499.6 1011.4 503.6 1011.2C507.6 1011.1 511.6 1010.9 515.6 1010.8C519.6 1010.7 523.6 1010.6 527.6 1010.5C531.6 1010.4 535.6 1010.3 539.5 1010.3C543.5 1010.2 547.5 1010.2 551.5 1010.1C555.5 1010.1 559.5 1010.1 563.5 1010.0C567.5 1010.0 571.5 1010.0 575.5 1010.0C579.5 1010.0 583.5 1010.0 587.5 1010.0C591.4 1009.9 595.4 1009.9 599.4 1009.9C603.4 1009.9 607.4 1009.9 611.4 1009.9C615.4 1009.9 619.5 1009.9 623.5 1009.8C627.5 1009.8 631.5 1009.8 635.5 1009.7C639.5 1009.7 643.5 1009.6 647.6 1009.6C651.6 1009.5 655.6 1009.4 659.6 1009.3C663.7 1009.2 667.7 1009.1 671.7 1009.0C675.8 1008.8 679.8 1008.7 683.8 1008.4C687.8 1008.2 691.9 1008.0 695.9 1007.7C699.9 1007.4 703.9 1007.1 707.9 1006.7C711.9 1006.3 715.9 1005.9 719.9 1005.4C723.8 1004.9 727.8 1004.3 731.8 1003.7C735.7 1003.1 739.6 1002.4 743.5 1001.6C747.5 1000.8 751.4 1000.0 755.2 999.0C759.1 998.1 762.9 997.1 766.8 996.0C770.6 994.8 774.4 993.6 778.2 992.3C781.9 991.0 785.7 989.6 789.4 988.1C793.1 986.6 796.7 985.0 800.3 983.3C804.0 981.6 807.5 979.8 811.0 977.9C814.5 976.0 818.0 974.0 821.4 971.9C824.8 969.7 828.1 967.5 831.3 965.2C834.6 962.9 837.8 960.4 840.9 957.9C844.1 955.5 847.2 952.9 850.3 950.3C853.4 947.8 856.5 945.2 859.6 942.7C862.7 940.2 865.9 937.6 869.0 935.1C872.1 932.6 875.3 930.1 878.4 927.6C881.5 925.1 884.7 922.6 887.8 920.2C891.0 917.7 894.1 915.2 897.3 912.7C900.4 910.3 903.6 907.8 906.7 905.3C909.9 902.9 913.0 900.4 916.2 897.9C919.3 895.5 922.5 893.0 925.7 890.6C928.8 888.1 932.0 885.6 935.1 883.2C938.3 880.7 941.4 878.3 944.6 875.8C947.7 873.3 950.9 870.9 954.1 868.4C957.2 865.9 960.4 863.5 963.6 861.0C966.7 858.6 969.9 856.2 973.1 853.7C976.3 851.3 979.5 848.9 982.7 846.5C985.9 844.1 989.1 841.7 992.4 839.4C995.6 837.0 998.8 834.7 1002.1 832.3C1005.4 830.0 1008.6 827.7 1011.9 825.5C1015.2 823.2 1018.6 821.0 1021.9 818.8C1025.2 816.6 1028.6 814.4 1032.0 812.2C1035.4 810.1 1038.8 808.0 1042.2 805.9C1045.6 803.8 1049.1 801.7 1052.5 799.7C1056.0 797.7 1059.4 795.7 1062.9 793.7C1066.4 791.8 1069.9 789.8 1073.5 787.9C1077.0 786.0 1080.5 784.1 1084.1 782.3C1087.7 780.4 1091.2 778.6 1094.8 776.8C1098.4 775.0 1102.0 773.3 1105.6 771.5C1109.2 769.8 1112.9 768.1 1116.5 766.4C1120.1 764.8 1123.8 763.1 1127.5 761.5C1131.1 759.9 1134.8 758.4 1138.5 756.8C1142.2 755.3 1145.9 753.8 1149.7 752.4C1153.4 750.9 1157.1 749.5 1160.9 748.1C1164.7 746.8 1168.4 745.5 1172.2 744.2C1176.0 742.9 1179.8 741.7 1183.6 740.5C1187.5 739.3 1191.3 738.2 1195.2 737.1C1199.0 736.0 1202.9 735.0 1206.7 734.0C1210.6 733.0 1214.5 732.0 1218.4 731.1C1222.3 730.1 1226.2 729.2 1230.1 728.2C1234.0 727.3 1237.9 726.4 1241.7 725.4C1245.6 724.4 1249.5 723.5 1253.4 722.4C1257.3 721.4 1261.1 720.4 1265.0 719.3C1268.8 718.2 1272.7 717.0 1276.5 715.8C1280.3 714.6 1284.2 713.3 1287.9 711.9C1291.7 710.5 1295.5 709.1 1299.3 707.5C1303.0 706.0 1306.7 704.4 1310.4 702.8C1314.0 701.1 1317.6 699.4 1321.2 697.7C1324.8 695.9 1328.4 694.0 1331.9 692.2C1335.4 690.3 1338.9 688.3 1342.3 686.3C1345.7 684.3 1349.1 682.3 1352.5 680.1C1355.9 678.0 1359.2 675.9 1362.5 673.7C1365.9 671.5 1369.1 669.2 1372.4 666.9C1375.6 664.6 1378.9 662.3 1382.1 659.9C1385.2 657.5 1388.4 655.1 1391.6 652.6C1394.7 650.1 1397.8 647.6 1400.9 645.1C1404.0 642.5 1407.0 640.0 1410.1 637.4C1413.1 634.7 1416.1 632.1 1419.1 629.4C1422.1 626.8 1425.1 624.1 1428.1 621.4C1431.0 618.6 1434.0 615.9 1436.9 613.1C1439.8 610.3 1442.7 607.5 1445.6 604.7C1448.5 601.9 1451.3 599.1 1454.2 596.2C1457.0 593.4 1459.9 590.5 1462.7 587.7C1465.5 584.8 1468.3 581.9 1471.1 579.0C1473.9 576.1 1476.7 573.2 1479.5 570.3C1482.3 567.4 1485.0 564.4 1487.8 561.5C1490.5 558.6 1493.3 555.7 1496.0 552.8C1498.8 549.8 1501.5 546.9 1504.2 544.0C1507.0 541.0 1509.7 538.1 1512.4 535.2C1515.1 532.2 1517.8 529.3 1520.5 526.4C1523.2 523.4 1525.9 520.5 1528.6 517.5C1531.3 514.6 1534.0 511.6 1536.6 508.7C1539.3 505.7 1542.0 502.8 1544.6 499.8C1547.3 496.8 1550.0 493.8 1552.6 490.9C1555.3 487.9 1557.9 484.9 1560.6 481.9C1563.2 478.9 1565.8 475.9 1568.5 472.9C1571.1 469.9 1573.7 466.9 1576.4 463.9C1579.0 460.9 1581.6 457.8 1584.2 454.8C1586.8 451.8 1589.4 448.7 1592.0 445.7C1594.7 442.6 1597.3 439.6 1599.9 436.5C1602.5 433.5 1605.1 430.4 1607.7 427.3C1610.3 424.3 1612.9 421.2 1615.5 418.2C1618.1 415.1 1620.7 412.1 1623.3 409.0C1625.9 406.0 1628.6 403.0 1631.2 399.9C1633.8 396.9 1636.4 393.9 1639.0 390.8C1641.6 387.8 1644.2 384.8 1646.8 381.7C1649.4 378.7 1652.0 375.6 1654.5 372.5C1657.1 369.5 1659.6 366.4 1662.2 363.3C1664.8 360.2 1667.3 357.2 1669.8 354.1C1672.4 351.0 1674.9 347.9 1677.4 344.7C1679.9 341.6 1682.4 338.5 1684.9 335.4C1687.5 332.3 1689.9 329.1 1692.4 326.0C1694.9 322.9 1697.4 319.7 1699.9 316.6C1702.4 313.5 1704.9 310.3 1707.4 307.2C1709.8 304.0 1712.3 300.9 1714.8 297.7C1717.3 294.6 1719.7 291.4 1722.2 288.2C1724.7 285.1 1727.1 281.9 1729.6 278.8C1732.1 275.6 1734.5 272.5 1737.0 269.3C1739.4 266.1 1741.9 263.0 1744.4 259.8C1746.8 256.7 1749.3 253.5 1751.8 250.4C1754.3 247.2 1756.7 244.0 1759.2 240.9C1761.7 237.7 1764.2 234.6 1766.6 231.5C1769.1 228.3 1771.6 225.2 1774.1 222.0C1776.6 218.9 1779.1 215.8 1781.6 212.7C1784.1 209.5 1786.6 206.4 1789.1 203.3C1791.6 200.2 1794.2 197.1 1796.7 194.0C1799.2 190.9 1803.0 186.2 1804.3 184.7 M1804.3 184.7C1803.3 186.4 1800.2 191.6 1798.1 195.1C1796.0 198.5 1793.8 201.8 1791.6 205.2C1789.4 208.6 1787.2 211.9 1784.9 215.2C1782.6 218.5 1780.3 221.7 1778.0 225.0C1775.6 228.3 1773.2 231.5 1770.8 234.7C1768.4 237.9 1766.0 241.1 1763.6 244.3C1761.2 247.5 1758.7 250.7 1756.3 253.9C1753.8 257.1 1751.3 260.3 1748.9 263.4C1746.4 266.6 1744.0 269.8 1741.5 272.9C1739.0 276.1 1736.6 279.3 1734.1 282.5C1731.6 285.6 1729.1 288.8 1726.7 291.9C1724.2 295.1 1721.7 298.3 1719.2 301.4C1716.7 304.6 1714.3 307.7 1711.8 310.9C1709.3 314.0 1706.8 317.2 1704.3 320.3C1701.8 323.5 1699.3 326.6 1696.8 329.8C1694.3 332.9 1691.8 336.1 1689.3 339.2C1686.8 342.3 1684.3 345.5 1681.8 348.6C1679.3 351.8 1676.8 354.9 1674.3 358.0C1671.8 361.2 1669.3 364.3 1666.8 367.4C1664.3 370.5 1661.7 373.7 1659.2 376.8C1656.7 379.9 1654.2 383.1 1651.7 386.2C1649.1 389.3 1646.6 392.4 1644.1 395.5C1641.6 398.7 1639.0 401.8 1636.5 404.9C1634.0 408.0 1631.4 411.1 1628.9 414.2C1626.4 417.4 1623.8 420.5 1621.3 423.6C1618.7 426.7 1616.2 429.8 1613.6 432.9C1611.1 436.0 1608.5 439.1 1606.0 442.2C1603.4 445.3 1600.9 448.4 1598.3 451.5C1595.8 454.6 1593.2 457.7 1590.6 460.8C1588.1 463.9 1585.5 467.0 1582.9 470.0C1580.4 473.1 1577.8 476.2 1575.2 479.3C1572.7 482.4 1570.1 485.5 1567.5 488.5C1564.9 491.6 1562.3 494.7 1559.8 497.8C1557.2 500.8 1554.6 503.9 1552.0 507.0C1549.4 510.0 1546.8 513.1 1544.2 516.2C1541.6 519.2 1539.0 522.3 1536.4 525.3C1533.8 528.4 1531.2 531.4 1528.6 534.5C1526.0 537.6 1523.4 540.6 1520.7 543.6C1518.1 546.7 1515.5 549.7 1512.9 552.8C1510.3 555.8 1507.6 558.8 1505.0 561.9C1502.4 564.9 1499.7 567.9 1497.1 571.0C1494.5 574.0 1491.8 577.0 1489.2 580.0C1486.6 583.1 1483.9 586.1 1481.3 589.1C1478.6 592.1 1476.0 595.1 1473.3 598.1C1470.7 601.1 1468.0 604.2 1465.3 607.2C1462.7 610.2 1460.0 613.2 1457.4 616.2C1454.7 619.2 1452.0 622.2 1449.4 625.2C1446.7 628.2 1444.0 631.2 1441.3 634.2C1438.7 637.1 1436.0 640.1 1433.3 643.1C1430.6 646.1 1427.9 649.1 1425.2 652.1C1422.6 655.1 1419.9 658.1 1417.2 661.0C1414.5 664.0 1411.8 667.0 1409.1 670.0C1406.4 672.9 1403.7 675.9 1401.0 678.9C1398.3 681.9 1395.6 684.8 1392.9 687.8C1390.2 690.8 1387.5 693.8 1384.7 696.7C1382.0 699.7 1379.3 702.7 1376.6 705.6C1373.8 708.5 1371.1 711.4 1368.3 714.3C1365.4 717.1 1362.6 719.9 1359.6 722.6C1356.7 725.3 1353.7 727.9 1350.6 730.5C1347.6 733.0 1344.5 735.5 1341.4 738.1C1338.3 740.6 1335.2 743.1 1332.1 745.7C1329.0 748.3 1325.9 751.0 1322.9 753.7C1319.8 756.3 1316.7 759.0 1313.6 761.7C1310.5 764.3 1307.4 766.9 1304.2 769.4C1301.0 771.8 1297.7 774.2 1294.4 776.5C1291.1 778.7 1287.7 780.9 1284.3 782.9C1280.9 785.0 1277.4 786.9 1273.9 788.8C1270.3 790.6 1266.8 792.4 1263.1 794.1C1259.5 795.8 1255.9 797.3 1252.2 798.8C1248.5 800.4 1244.7 801.8 1241.0 803.1C1237.2 804.5 1233.4 805.8 1229.6 807.0C1225.8 808.2 1221.9 809.3 1218.0 810.4C1214.2 811.5 1210.3 812.5 1206.3 813.5C1202.4 814.4 1198.5 815.3 1194.6 816.2C1190.6 817.1 1186.7 817.9 1182.7 818.6C1178.8 819.4 1174.8 820.1 1170.8 820.9C1166.9 821.6 1162.9 822.3 1159.0 823.0C1155.0 823.7 1151.0 824.4 1147.1 825.2C1143.1 825.9 1139.2 826.7 1135.3 827.5C1131.4 828.3 1127.4 829.1 1123.6 830.0C1119.7 830.9 1115.8 831.9 1111.9 833.0C1108.1 834.0 1104.3 835.2 1100.5 836.4C1096.7 837.7 1092.9 839.0 1089.2 840.4C1085.4 841.9 1081.7 843.4 1078.0 845.0C1074.3 846.6 1070.7 848.3 1067.0 850.0C1063.4 851.7 1059.7 853.5 1056.1 855.4C1052.5 857.2 1048.9 859.1 1045.4 861.0C1041.8 862.9 1038.2 864.9 1034.7 866.8C1031.1 868.8 1027.6 870.8 1024.1 872.7C1020.6 874.7 1017.0 876.7 1013.5 878.7C1010.0 880.6 1006.5 882.6 1003.0 884.6C999.6 886.5 996.1 888.5 992.6 890.5C989.1 892.4 985.7 894.4 982.2 896.3C978.7 898.3 975.3 900.3 971.8 902.3C968.4 904.2 964.9 906.2 961.5 908.2C958.0 910.2 954.6 912.2 951.2 914.2C947.7 916.2 944.3 918.3 940.9 920.3C937.4 922.4 934.0 924.4 930.6 926.5C927.2 928.5 923.8 930.6 920.3 932.7C916.9 934.9 913.5 937.0 910.1 939.1C906.7 941.3 903.3 943.4 899.8 945.6C896.4 947.8 893.0 950.0 889.6 952.2C886.2 954.4 882.7 956.5 879.3 958.7C875.8 960.9 872.4 963.0 868.9 965.1C865.5 967.2 862.0 969.3 858.5 971.3C855.0 973.4 851.5 975.4 847.9 977.3C844.4 979.2 840.8 981.1 837.3 982.9C833.7 984.7 830.1 986.4 826.4 988.0C822.8 989.7 819.1 991.2 815.4 992.7C811.7 994.1 808.0 995.5 804.3 996.7C800.5 998.0 796.7 999.1 792.9 1000.1C789.0 1001.1 785.1 1002.0 781.2 1002.8C777.3 1003.6 773.4 1004.3 769.5 1004.9C765.5 1005.5 761.5 1006.0 757.5 1006.5C753.6 1007.0 749.5 1007.4 745.5 1007.7C741.5 1008.0 737.5 1008.3 733.4 1008.5C729.4 1008.8 725.3 1008.9 721.3 1009.1C717.2 1009.3 713.1 1009.4 709.1 1009.5C705.0 1009.6 701.0 1009.7 696.9 1009.7C692.9 1009.8 688.9 1009.9 684.8 1009.9C680.8 1010.0 676.8 1010.1 672.8 1010.1C668.7 1010.2 664.7 1010.2 660.7 1010.2C656.7 1010.3 652.7 1010.3 648.7 1010.4C644.7 1010.4 640.7 1010.4 636.7 1010.4C632.7 1010.5 628.7 1010.5 624.7 1010.5C620.7 1010.5 616.7 1010.6 612.7 1010.6C608.7 1010.6 604.7 1010.6 600.8 1010.7C596.8 1010.7 592.8 1010.7 588.8 1010.8C584.8 1010.8 580.8 1010.8 576.8 1010.9C572.8 1010.9 568.8 1011.0 564.8 1011.0C560.8 1011.1 556.8 1011.1 552.8 1011.2C548.7 1011.2 544.7 1011.3 540.7 1011.4C536.7 1011.4 532.7 1011.5 528.6 1011.6C524.6 1011.7 520.6 1011.8 516.5 1012.0C512.5 1012.1 508.5 1012.3 504.4 1012.4C500.4 1012.6 496.4 1012.8 492.3 1013.1C488.3 1013.3 484.3 1013.6 480.3 1013.9C476.2 1014.3 472.2 1014.6 468.2 1015.0C464.2 1015.5 460.2 1015.9 456.2 1016.4C452.3 1017.0 448.3 1017.5 444.3 1018.2C440.4 1018.8 436.4 1019.5 432.5 1020.3C428.6 1021.1 424.7 1021.9 420.8 1022.9C416.9 1023.8 413.0 1024.8 409.2 1025.9C405.3 1026.9 401.5 1028.1 397.7 1029.3C393.8 1030.5 390.0 1031.7 386.2 1033.1C382.5 1034.4 378.7 1035.8 374.9 1037.2C371.2 1038.7 367.5 1040.3 363.7 1041.7C360.0 1043.2 356.3 1045.0 352.5 1046.1C348.8 1047.2 342.9 1047.9 341.0 1048.3"/>
<path stroke="#8000ff" d="M341.8 1039.2C343.5 1038.2 348.7 1034.9 352.2 1033.0C355.8 1031.1 359.4 1029.4 363.1 1027.9C366.8 1026.3 370.6 1025.0 374.4 1023.7C378.1 1022.4 382.0 1021.3 385.9 1020.3C389.8 1019.3 393.7 1018.4 397.6 1017.6C401.6 1016.8 405.6 1016.1 409.5 1015.5C413.5 1014.8 417.5 1014.3 421.5 1013.8C425.5 1013.3 429.6 1012.8 433.6 1012.4C437.6 1012.0 441.6 1011.6 445.6 1011.3C449.6 1010.9 453.6 1010.6 457.6 1010.3C461.6 1010.1 465.7 1009.8 469.7 1009.6C473.7 1009.4 477.7 1009.2 481.7 1009.1C485.7 1008.9 489.7 1008.8 493.8 1008.7C497.8 1008.5 501.8 1008.5 505.8 1008.4C509.8 1008.3 513.8 1008.2 517.9 1008.2C521.9 1008.1 525.9 1008.0 529.9 1008.0C533.9 1007.9 537.9 1007.9 542.0 1007.9C546.0 1007.8 550.0 1007.8 554.0 1007.7C558.0 1007.7 562.0 1007.6 566.1 1007.6C570.1 1007.6 574.1 1007.5 578.1 1007.5C582.1 1007.4 586.1 1007.4 590.1 1007.3C594.2 1007.3 598.2 1007.2 602.2 1007.2C606.2 1007.1 610.2 1007.1 614.3 1007.0C618.3 1007.0 622.3 1006.9 626.3 1006.9C630.3 1006.8 634.3 1006.8 638.4 1006.7C642.4 1006.6 646.4 1006.6 650.4 1006.5C654.4 1006.4 658.5 1006.3 662.5 1006.3C666.5 1006.2 670.5 1006.1 674.6 1006.0C678.6 1005.9 682.6 1005.8 686.6 1005.7C690.7 1005.6 694.7 1005.5 698.7 1005.4C702.8 1005.3 706.8 1005.2 710.8 1005.1C714.9 1004.9 718.9 1004.8 722.9 1004.5C726.9 1004.3 730.9 1004.1 734.9 1003.7C738.9 1003.4 742.9 1003.0 746.9 1002.5C750.9 1001.9 754.8 1001.3 758.8 1000.6C762.7 999.9 766.6 999.0 770.5 998.0C774.4 997.0 778.3 995.9 782.1 994.7C786.0 993.4 789.8 992.0 793.6 990.6C797.3 989.2 801.1 987.6 804.8 986.0C808.5 984.4 812.1 982.8 815.7 981.0C819.3 979.3 822.9 977.5 826.5 975.6C830.0 973.8 833.5 971.8 837.0 969.9C840.5 967.9 843.9 965.9 847.3 963.8C850.8 961.7 854.1 959.6 857.5 957.4C860.9 955.2 864.2 953.0 867.5 950.8C870.8 948.5 874.1 946.2 877.4 943.9C880.7 941.6 883.9 939.2 887.2 936.8C890.4 934.4 893.6 932.0 896.8 929.6C900.0 927.1 903.2 924.7 906.4 922.2C909.6 919.7 912.7 917.2 915.9 914.7C919.1 912.2 922.2 909.7 925.4 907.1C928.5 904.6 931.6 902.1 934.8 899.5C937.9 897.0 941.1 894.5 944.2 891.9C947.3 889.4 950.5 886.8 953.6 884.3C956.7 881.8 959.9 879.3 963.0 876.8C966.2 874.3 969.3 871.8 972.5 869.3C975.6 866.8 978.8 864.3 982.0 861.8C985.1 859.4 988.3 856.9 991.5 854.4C994.6 852.0 997.8 849.5 1001.0 847.1C1004.1 844.6 1007.3 842.2 1010.5 839.7C1013.7 837.3 1016.8 834.8 1020.0 832.4C1023.2 829.9 1026.4 827.5 1029.5 825.0C1032.7 822.6 1035.9 820.1 1039.0 817.7C1042.2 815.2 1045.4 812.7 1048.5 810.3C1051.7 807.8 1054.9 805.3 1058.0 802.8C1061.2 800.3 1064.3 797.9 1067.5 795.4C1070.7 792.9 1073.8 790.4 1077.0 788.0C1080.2 785.5 1083.4 783.0 1086.6 780.6C1089.8 778.2 1093.0 775.8 1096.2 773.4C1099.5 771.0 1102.7 768.6 1106.0 766.2C1109.2 763.9 1112.5 761.6 1115.8 759.3C1119.1 757.0 1122.5 754.7 1125.8 752.5C1129.2 750.3 1132.6 748.2 1136.0 746.0C1139.4 743.9 1142.9 741.8 1146.3 739.8C1149.8 737.7 1153.3 735.7 1156.8 733.8C1160.3 731.8 1163.9 729.9 1167.4 728.0C1171.0 726.2 1174.6 724.3 1178.2 722.6C1181.8 720.8 1185.5 719.1 1189.1 717.4C1192.8 715.7 1196.5 714.1 1200.2 712.5C1203.9 711.0 1207.6 709.4 1211.4 708.1C1215.2 706.7 1219.0 705.4 1222.8 704.3C1226.6 703.1 1230.5 702.1 1234.3 701.1C1238.2 700.2 1242.1 699.4 1246.1 698.6C1250.0 697.8 1253.9 697.1 1257.9 696.4C1261.8 695.8 1265.8 695.2 1269.8 694.5C1273.8 693.9 1277.7 693.4 1281.7 692.8C1285.7 692.2 1289.7 691.6 1293.7 690.9C1297.7 690.3 1301.7 689.6 1305.6 688.9C1309.6 688.1 1313.6 687.4 1317.5 686.5C1321.5 685.7 1325.4 684.7 1329.3 683.8C1333.3 682.8 1337.2 681.8 1341.0 680.6C1344.9 679.5 1348.8 678.3 1352.6 677.1C1356.4 675.8 1360.2 674.5 1364.0 673.1C1367.7 671.7 1371.5 670.2 1375.1 668.7C1378.8 667.1 1382.5 665.5 1386.1 663.7C1389.7 662.0 1393.2 660.2 1396.8 658.3C1400.3 656.4 1403.7 654.4 1407.1 652.3C1410.6 650.3 1413.9 648.1 1417.3 645.9C1420.6 643.7 1423.9 641.4 1427.2 639.1C1430.4 636.7 1433.6 634.3 1436.8 631.9C1440.0 629.4 1443.2 626.9 1446.3 624.4C1449.4 621.8 1452.5 619.2 1455.6 616.6C1458.7 614.0 1461.7 611.3 1464.8 608.6C1467.8 605.9 1470.8 603.2 1473.8 600.5C1476.8 597.8 1479.7 595.0 1482.7 592.2C1485.7 589.5 1488.6 586.7 1491.5 584.0C1494.5 581.2 1497.4 578.4 1500.3 575.7C1503.2 572.9 1506.1 570.1 1509.0 567.4C1511.9 564.6 1514.8 561.8 1517.7 559.1C1520.6 556.3 1523.4 553.5 1526.3 550.7C1529.2 547.9 1532.0 545.1 1534.9 542.3C1537.7 539.5 1540.6 536.7 1543.4 533.9C1546.3 531.1 1549.1 528.3 1551.9 525.4C1554.8 522.6 1557.6 519.7 1560.5 516.9C1563.3 514.0 1566.1 511.2 1568.9 508.3C1571.8 505.4 1574.6 502.5 1577.4 499.6C1580.2 496.7 1583.0 493.8 1585.7 490.9C1588.5 487.9 1591.3 485.0 1594.0 482.0C1596.7 479.1 1599.4 476.1 1602.1 473.1C1604.8 470.1 1607.4 467.0 1610.1 464.0C1612.7 461.0 1615.3 457.9 1617.9 454.9C1620.6 451.8 1623.2 448.8 1625.8 445.7C1628.3 442.7 1630.9 439.6 1633.5 436.5C1636.1 433.5 1638.7 430.4 1641.3 427.3C1643.9 424.2 1646.5 421.2 1649.0 418.1C1651.6 415.1 1654.3 412.0 1656.9 409.0C1659.5 405.9 1662.1 402.9 1664.7 399.8C1667.4 396.8 1670.0 393.7 1672.6 390.7C1675.3 387.7 1677.9 384.7 1680.6 381.6C1683.2 378.6 1685.9 375.6 1688.5 372.5C1691.2 369.5 1693.8 366.5 1696.5 363.5C1699.1 360.4 1701.8 357.4 1704.4 354.4C1707.1 351.3 1709.7 348.3 1712.3 345.3C1715.0 342.2 1717.6 339.2 1720.2 336.1C1722.8 333.1 1725.5 330.0 1728.1 327.0C1730.7 323.9 1733.3 320.8 1735.8 317.8C1738.4 314.7 1741.0 311.6 1743.6 308.5C1746.1 305.4 1748.7 302.3 1751.2 299.2C1753.7 296.1 1756.3 292.9 1758.8 289.8C1761.3 286.6 1763.8 283.5 1766.3 280.4C1768.8 277.2 1771.3 274.1 1773.8 270.9C1776.3 267.8 1778.8 264.7 1781.3 261.5C1783.8 258.4 1786.4 255.3 1788.9 252.2C1791.5 249.1 1794.0 246.0 1796.6 242.9C1799.2 239.9 1803.2 235.3 1804.5 233.8 M1804.5 233.8C1803.3 235.4 1799.8 240.3 1797.5 243.6C1795.2 246.8 1792.8 250.0 1790.5 253.3C1788.1 256.5 1785.8 259.7 1783.4 263.0C1781.0 266.2 1778.6 269.4 1776.3 272.6C1773.9 275.9 1771.5 279.1 1769.1 282.3C1766.7 285.5 1764.3 288.7 1761.9 291.9C1759.5 295.1 1757.1 298.3 1754.6 301.5C1752.2 304.6 1749.8 307.8 1747.4 311.0C1744.9 314.2 1742.5 317.4 1740.0 320.5C1737.6 323.7 1735.1 326.9 1732.7 330.0C1730.2 333.2 1727.8 336.3 1725.3 339.5C1722.8 342.6 1720.3 345.8 1717.9 348.9C1715.4 352.0 1712.9 355.2 1710.4 358.3C1707.9 361.4 1705.4 364.6 1702.9 367.7C1700.4 370.8 1697.9 373.9 1695.4 377.0C1692.9 380.2 1690.4 383.3 1687.8 386.4C1685.3 389.5 1682.8 392.6 1680.3 395.7C1677.7 398.8 1675.2 401.9 1672.7 405.0C1670.1 408.1 1667.6 411.1 1665.0 414.2C1662.5 417.3 1660.0 420.4 1657.4 423.5C1654.9 426.6 1652.3 429.7 1649.8 432.7C1647.2 435.8 1644.7 438.9 1642.1 442.0C1639.6 445.1 1637.0 448.1 1634.4 451.2C1631.9 454.3 1629.3 457.4 1626.8 460.5C1624.2 463.5 1621.7 466.6 1619.1 469.7C1616.6 472.8 1614.0 475.9 1611.4 478.9C1608.9 482.0 1606.3 485.1 1603.7 488.2C1601.2 491.2 1598.6 494.3 1596.0 497.4C1593.5 500.4 1590.9 503.5 1588.3 506.5C1585.7 509.6 1583.1 512.6 1580.5 515.7C1577.9 518.7 1575.3 521.8 1572.7 524.8C1570.1 527.8 1567.5 530.8 1564.8 533.9C1562.2 536.9 1559.6 539.9 1556.9 542.9C1554.3 545.9 1551.6 548.9 1548.9 551.8C1546.2 554.8 1543.6 557.8 1540.9 560.7C1538.2 563.7 1535.5 566.6 1532.8 569.6C1530.1 572.5 1527.3 575.5 1524.6 578.4C1521.9 581.3 1519.2 584.2 1516.4 587.2C1513.7 590.1 1511.0 593.0 1508.2 595.9C1505.5 598.8 1502.7 601.7 1500.0 604.7C1497.3 607.6 1494.5 610.5 1491.8 613.4C1489.1 616.3 1486.3 619.3 1483.6 622.2C1480.9 625.1 1478.2 628.1 1475.4 631.0C1472.7 633.9 1470.0 636.9 1467.3 639.9C1464.6 642.8 1462.0 645.8 1459.3 648.8C1456.6 651.8 1454.0 654.8 1451.3 657.8C1448.6 660.8 1446.0 663.8 1443.4 666.8C1440.7 669.8 1438.1 672.8 1435.4 675.8C1432.8 678.8 1430.1 681.8 1427.5 684.8C1424.8 687.8 1422.2 690.8 1419.5 693.8C1416.8 696.8 1414.1 699.7 1411.4 702.7C1408.7 705.6 1406.0 708.5 1403.2 711.4C1400.5 714.3 1397.7 717.2 1394.9 720.0C1392.1 722.9 1389.3 725.7 1386.4 728.5C1383.6 731.2 1380.7 734.0 1377.8 736.7C1374.9 739.4 1371.9 742.1 1368.9 744.7C1365.9 747.3 1362.8 749.9 1359.8 752.4C1356.7 755.0 1353.5 757.5 1350.4 759.9C1347.2 762.4 1344.0 764.8 1340.8 767.2C1337.6 769.6 1334.4 772.1 1331.1 774.5C1327.9 776.9 1324.7 779.3 1321.4 781.8C1318.2 784.2 1315.0 786.6 1311.7 789.0C1308.4 791.3 1305.1 793.6 1301.8 795.9C1298.5 798.1 1295.1 800.3 1291.7 802.4C1288.3 804.4 1284.8 806.4 1281.3 808.2C1277.8 810.1 1274.2 811.8 1270.6 813.3C1267.0 814.9 1263.3 816.3 1259.6 817.7C1255.8 819.0 1252.1 820.3 1248.2 821.4C1244.4 822.6 1240.6 823.7 1236.7 824.7C1232.8 825.7 1228.9 826.6 1225.0 827.5C1221.1 828.4 1217.2 829.3 1213.2 830.1C1209.3 831.0 1205.3 831.8 1201.4 832.6C1197.4 833.4 1193.5 834.2 1189.5 835.0C1185.6 835.8 1181.6 836.6 1177.7 837.5C1173.8 838.4 1169.8 839.2 1165.9 840.1C1162.0 841.0 1158.1 842.0 1154.2 842.9C1150.4 843.9 1146.5 844.9 1142.7 846.0C1138.8 847.0 1135.0 848.1 1131.2 849.2C1127.3 850.4 1123.6 851.6 1119.8 852.8C1116.0 854.1 1112.3 855.4 1108.5 856.8C1104.8 858.2 1101.1 859.6 1097.4 861.1C1093.7 862.6 1090.1 864.2 1086.5 865.9C1082.8 867.5 1079.2 869.2 1075.6 871.0C1072.0 872.7 1068.4 874.5 1064.9 876.4C1061.3 878.2 1057.8 880.1 1054.2 882.0C1050.7 883.9 1047.2 885.8 1043.7 887.8C1040.1 889.7 1036.6 891.7 1033.1 893.7C1029.6 895.7 1026.1 897.7 1022.6 899.7C1019.2 901.7 1015.7 903.7 1012.2 905.6C1008.7 907.6 1005.2 909.6 1001.7 911.5C998.2 913.5 994.7 915.4 991.2 917.3C987.7 919.3 984.2 921.2 980.7 923.1C977.2 925.0 973.7 926.9 970.2 928.8C966.7 930.8 963.2 932.7 959.8 934.7C956.3 936.6 952.8 938.6 949.4 940.6C945.9 942.6 942.4 944.6 939.0 946.5C935.5 948.5 932.0 950.5 928.5 952.4C925.0 954.4 921.5 956.3 918.0 958.2C914.5 960.2 911.0 962.1 907.4 963.9C903.9 965.8 900.3 967.7 896.7 969.5C893.2 971.3 889.6 973.0 885.9 974.8C882.3 976.5 878.7 978.2 875.0 979.8C871.3 981.5 867.7 983.1 864.0 984.6C860.3 986.2 856.5 987.7 852.8 989.1C849.1 990.6 845.3 992.0 841.5 993.3C837.7 994.6 833.9 995.8 830.1 997.0C826.3 998.2 822.5 999.3 818.6 1000.4C814.8 1001.4 810.9 1002.4 807.0 1003.3C803.1 1004.2 799.2 1005.0 795.3 1005.7C791.4 1006.4 787.4 1007.0 783.5 1007.6C779.5 1008.1 775.5 1008.6 771.5 1009.0C767.6 1009.4 763.6 1009.7 759.6 1010.0C755.6 1010.2 751.6 1010.4 747.6 1010.6C743.6 1010.8 739.6 1011.0 735.6 1011.1C731.6 1011.3 727.6 1011.4 723.6 1011.6C719.6 1011.7 715.6 1011.9 711.6 1012.0C707.6 1012.2 703.6 1012.3 699.6 1012.4C695.5 1012.5 691.5 1012.7 687.5 1012.8C683.5 1012.9 679.5 1013.0 675.5 1013.1C671.5 1013.1 667.5 1013.2 663.5 1013.3C659.6 1013.4 655.6 1013.4 651.6 1013.5C647.6 1013.5 643.6 1013.6 639.6 1013.6C635.6 1013.7 631.6 1013.7 627.6 1013.7C623.6 1013.8 619.6 1013.8 615.6 1013.8C611.6 1013.8 607.6 1013.9 603.6 1013.9C599.6 1013.9 595.6 1013.9 591.6 1014.0C587.6 1014.0 583.6 1014.0 579.6 1014.0C575.6 1014.1 571.6 1014.1 567.6 1014.1C563.6 1014.1 559.6 1014.2 555.6 1014.2C551.6 1014.2 547.6 1014.3 543.6 1014.3C539.6 1014.4 535.5 1014.4 531.5 1014.5C527.5 1014.6 523.5 1014.6 519.5 1014.7C515.5 1014.8 511.5 1014.9 507.5 1015.0C503.5 1015.1 499.5 1015.2 495.5 1015.4C491.5 1015.5 487.5 1015.7 483.5 1015.9C479.4 1016.1 475.5 1016.3 471.5 1016.5C467.5 1016.8 463.5 1017.0 459.5 1017.3C455.5 1017.6 451.5 1017.9 447.5 1018.3C443.5 1018.7 439.6 1019.1 435.6 1019.5C431.6 1019.9 427.7 1020.4 423.7 1020.9C419.7 1021.4 415.8 1022.0 411.9 1022.6C407.9 1023.2 404.0 1023.9 400.0 1024.6C396.1 1025.3 392.2 1026.0 388.3 1026.8C384.4 1027.6 380.5 1028.5 376.6 1029.4C372.7 1030.3 368.8 1031.2 364.9 1032.3C361.0 1033.3 357.2 1034.4 353.3 1035.5C349.5 1036.7 343.7 1038.6 341.8 1039.2"/>
</g>
<g stroke="#000" fill="none">
<path stroke-width="2" d="M284.0 52.0H1969.0"/>
<path stroke-width="3" d="M1967.5 51.0V1297.0"/>
<path stroke-width="6" stroke-linejoin="round" d="M284.0 51.0V1297.0H1970.0"/>
</g>
<path fill="#000" d="M338.0 1297.0H344.0V1323.2L342.4 1324.8H339.6L338.0 1323.2ZM419.3 1297.0H425.3V1310.3L423.7 1311.9H420.9L419.3 1310.3ZM500.6 1297.0H506.6V1323.2L505.0 1324.8H502.2L500.6 1323.2ZM581.9 1297.0H587.9V1310.3L586.3 1311.9H583.5L581.9 1310.3ZM663.2 1297.0H669.2V1323.2L667.6 1324.8H664.8L663.2 1323.2ZM744.5 1297.0H750.5V1310.3L748.9 1311.9H746.1L744.5 1310.3ZM825.8 1297.0H831.8V1323.2L830.2 1324.8H827.4L825.8 1323.2ZM907.1 1297.0H913.1V1310.3L911.5 1311.9H908.7L907.1 1310.3ZM988.4 1297.0H994.4V1323.2L992.8 1324.8H990.0L988.4 1323.2ZM1069.7 1297.0H1075.7V1310.3L1074.1 1311.9H1071.3L1069.7 1310.3ZM1151.0 1297.0H1157.0V1323.2L1155.4 1324.8H1152.6L1151.0 1323.2ZM1232.3 1297.0H1238.3V1310.3L1236.7 1311.9H1233.9L1232.3 1310.3ZM1313.6 1297.0H1319.6V1323.2L1318.0 1324.8H1315.2L1313.6 1323.2ZM1394.9 1297.0H1400.9V1310.3L1399.3 1311.9H1396.5L1394.9 1310.3ZM1476.2 1297.0H1482.2V1323.2L1480.6 1324.8H1477.8L1476.2 1323.2ZM1557.5 1297.0H1563.5V1310.3L1561.9 1311.9H1559.1L1557.5 1310.3ZM1638.8 1297.0H1644.8V1323.2L1643.2 1324.8H1640.4L1638.8 1323.2ZM1720.1 1297.0H1726.1V1310.3L1724.5 1311.9H1721.7L1720.1 1310.3ZM1801.4 1297.0H1807.4V1323.2L1805.8 1324.8H1803.0L1801.4 1323.2ZM1882.7 1297.0H1888.7V1310.3L1887.1 1311.9H1884.3L1882.7 1310.3ZM1964.0 1297.0H1970.0V1323.2L1968.4 1324.8H1965.6L1964.0 1323.2ZM284.0 368.0V374.0H257.6L256.0 372.4V369.6L257.6 368.0ZM284.0 1007.0V1013.0H257.6L256.0 1011.4V1008.6L257.6 1007.0ZM284.0 687.5V693.5H269.6L268.0 691.9V689.1L269.6 687.5ZM284.0 49.0V55.0H269.6L268.0 53.4V50.6L269.6 49.0Z"/>
<text class="tk" transform="translate(341.00 1377.80)" text-anchor="middle">-0.4</text>
<text class="tk" transform="translate(503.60 1377.80)" text-anchor="middle">-0.2</text>
<text class="tk" transform="translate(666.20 1377.80)" text-anchor="middle">0.0</text>
<text class="tk" transform="translate(828.80 1377.80)" text-anchor="middle">0.2</text>
<text class="tk" transform="translate(991.40 1377.80)" text-anchor="middle">0.4</text>
<text class="tk" transform="translate(1154.00 1377.80)" text-anchor="middle">0.6</text>
<text class="tk" transform="translate(1316.60 1377.80)" text-anchor="middle">0.8</text>
<text class="tk" transform="translate(1479.20 1377.80)" text-anchor="middle">1.0</text>
<text class="tk" transform="translate(1641.80 1377.80)" text-anchor="middle">1.2</text>
<text class="tk" transform="translate(1804.40 1377.80)" text-anchor="middle">1.4</text>
<text class="tk" transform="translate(1967.00 1377.80)" text-anchor="middle">1.6</text>
<text class="tk" transform="translate(243.00 385.00)" text-anchor="end">0.1</text>
<text class="tk" transform="translate(243.00 1024.00)" text-anchor="end">0.0</text>
<text class="lab" transform="translate(1125.80 1474.40) scale(1.0000 1.0350)" text-anchor="middle">E, (mV) vs RHE</text>
<text class="lab" transform="translate(79.00 828.50) rotate(-90) scale(1.0000 1.0350)">j/mAcm<tspan class="sup" dy="-32.46">-2</tspan></text>
<text class="lab" transform="translate(1019.00 638.00) scale(1.0030 1.0400)">MnAPFVT-L</text>
<text class="lab" transform="translate(1019.00 1137.80) scale(1.0000 1.0400)">MnAPHFVT-L</text>
<text class="b" transform="translate(1814.70 177.00) scale(0.9680 1.0000)">5mV/s</text>
<text class="b" transform="translate(1802.90 291.90) scale(0.9550 1.0000)">10mV/s</text>
<text class="b" transform="translate(1779.30 713.00) scale(0.9550 1.0000)">10mV/s</text>
<text class="b" transform="translate(1798.40 843.00) scale(0.9680 1.0000)">5mV/s</text>
</svg>
</body></html>
